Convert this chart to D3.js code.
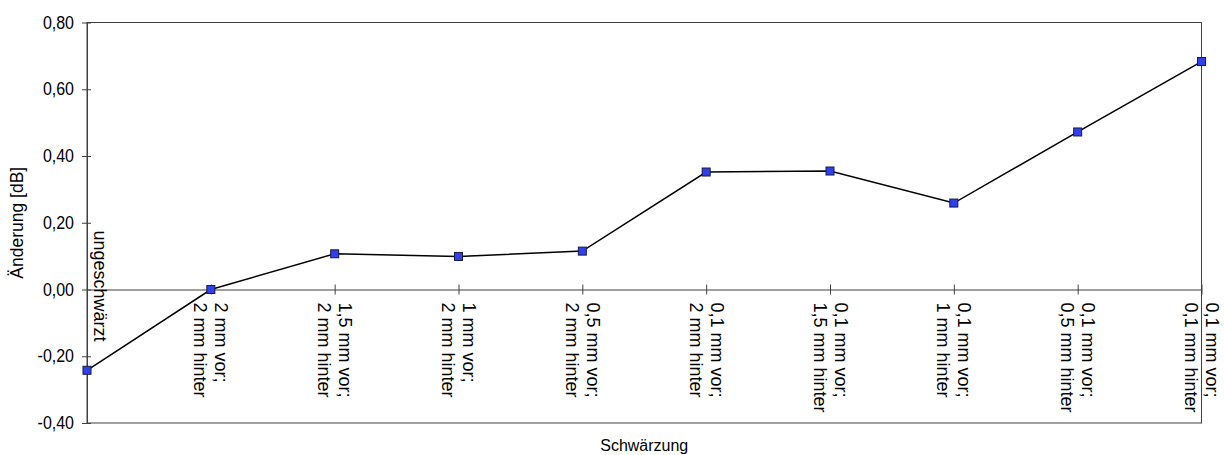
<!DOCTYPE html>
<html>
<head>
<meta charset="utf-8">
<script src="https://cdn.jsdelivr.net/npm/d3@7"></script>
<style>
  body { margin: 0; background: #fff; }
  text { font-family: "Liberation Sans", Arial, sans-serif; fill: #000; }
</style>
</head>
<body>
<svg id="chart" width="1224" height="455"></svg>
<script>
// category labels (one or two lines each)
const labelLines = [
  ["ungeschwärzt"],
  ["2 mm vor;", "2 mm hinter"],
  ["1,5 mm vor;", "2 mm hinter"],
  ["1 mm vor;", "2 mm hinter"],
  ["0,5 mm vor;", "2 mm hinter"],
  ["0,1 mm vor;", "2 mm hinter"],
  ["0,1 mm vor;", "1,5 mm hinter"],
  ["0,1 mm vor;", "1 mm hinter"],
  ["0,1 mm vor;", "0,5 mm hinter"],
  ["0,1 mm vor;", "0,1 mm hinter"]
];
const categories = labelLines.map(l => l.join(" "));
const values = [-0.242, 0.0, 0.107, 0.099, 0.115, 0.352, 0.355, 0.259, 0.472, 0.683];
const yTicks = [-0.4, -0.2, 0, 0.2, 0.4, 0.6, 0.8];

const svg = d3.select("#chart");
const width = 1224, height = 455;
const margin = {top: 22.5, right: 22.5, bottom: 32, left: 87};
const innerWidth = width - margin.left - margin.right;
const innerHeight = height - margin.top - margin.bottom;

const xScale = d3.scalePoint()
  .domain(categories)
  .range([0, innerWidth])
  .padding(0);

const yScale = d3.scaleLinear()
  .domain([-0.4, 0.8])
  .range([innerHeight, 0]);

const g = svg.append("g")
  .attr("transform", `translate(${margin.left},${margin.top})`);

// plot frame
g.append("rect")
  .attr("width", innerWidth)
  .attr("height", innerHeight)
  .attr("fill", "none")
  .attr("stroke", "#404040")
  .attr("stroke-width", 1);

// Y axis
const fmt = d => d3.format(".2f")(d).replace("−", "-").replace(".", ",");
const yAxis = g.append("g")
  .call(d3.axisLeft(yScale).tickValues(yTicks).tickFormat(fmt)
    .tickSize(5).tickSizeOuter(0).tickPadding(8));
yAxis.selectAll("path, line").attr("stroke", "#404040");
yAxis.selectAll(".tick line").attr("x1", 4).attr("x2", -5);
yAxis.selectAll("text")
  .style("font-size", "16px")
  .attr("transform", "scale(1,1.1)");

// X axis on the zero line
const xAxis = g.append("g")
  .attr("transform", `translate(0,${yScale(0)})`)
  .call(d3.axisBottom(xScale).tickFormat("").tickSizeOuter(0));
xAxis.selectAll("path, line").attr("stroke", "#404040");
xAxis.selectAll(".tick line").attr("y1", -5).attr("y2", 5);

// rotated category labels
const lab = g.append("g").selectAll("g")
  .data(labelLines)
  .join("g")
  .attr("transform", (d, i) => `translate(${xScale(categories[i])},${yScale(0) + 13}) rotate(90)`);
lab.each(function(lines) {
  const sel = d3.select(this);
  if (lines.length === 1) {
    sel.append("text")
      .attr("x", -72).attr("y", -13)
      .attr("dominant-baseline", "central")
      .style("font-size", "18px")
      .text(lines[0]);
  } else {
    lines.forEach((t, k) => {
      sel.append("text")
        .attr("x", 0).attr("y", k === 0 ? -10.5 : 10.5)
        .attr("dominant-baseline", "central")
        .style("font-size", "18px")
        .text(t);
    });
  }
});

// series line
const line = d3.line()
  .x((d, i) => xScale(categories[i]))
  .y(d => yScale(d));
g.append("path")
  .datum(values)
  .attr("fill", "none")
  .attr("stroke", "#000")
  .attr("stroke-width", 1.5)
  .attr("d", line);

// markers
g.selectAll("rect.marker")
  .data(values)
  .join("rect")
  .attr("class", "marker")
  .attr("x", (d, i) => xScale(categories[i]) - 4)
  .attr("y", d => yScale(d) - 4)
  .attr("width", 8)
  .attr("height", 8)
  .attr("fill", "#3040f0")
  .attr("stroke", "#1a1a40")
  .attr("stroke-width", 1);

// axis titles
svg.append("text")
  .attr("transform", `translate(17,${margin.top + innerHeight / 2}) rotate(-90)`)
  .attr("text-anchor", "middle")
  .attr("dominant-baseline", "central")
  .style("font-size", "17.5px")
  .text("Änderung [dB]");

svg.append("text")
  .attr("x", margin.left + innerWidth / 2)
  .attr("y", 451)
  .attr("text-anchor", "middle")
  .style("font-size", "16px")
  .text("Schwärzung");
</script>
</body>
</html>
